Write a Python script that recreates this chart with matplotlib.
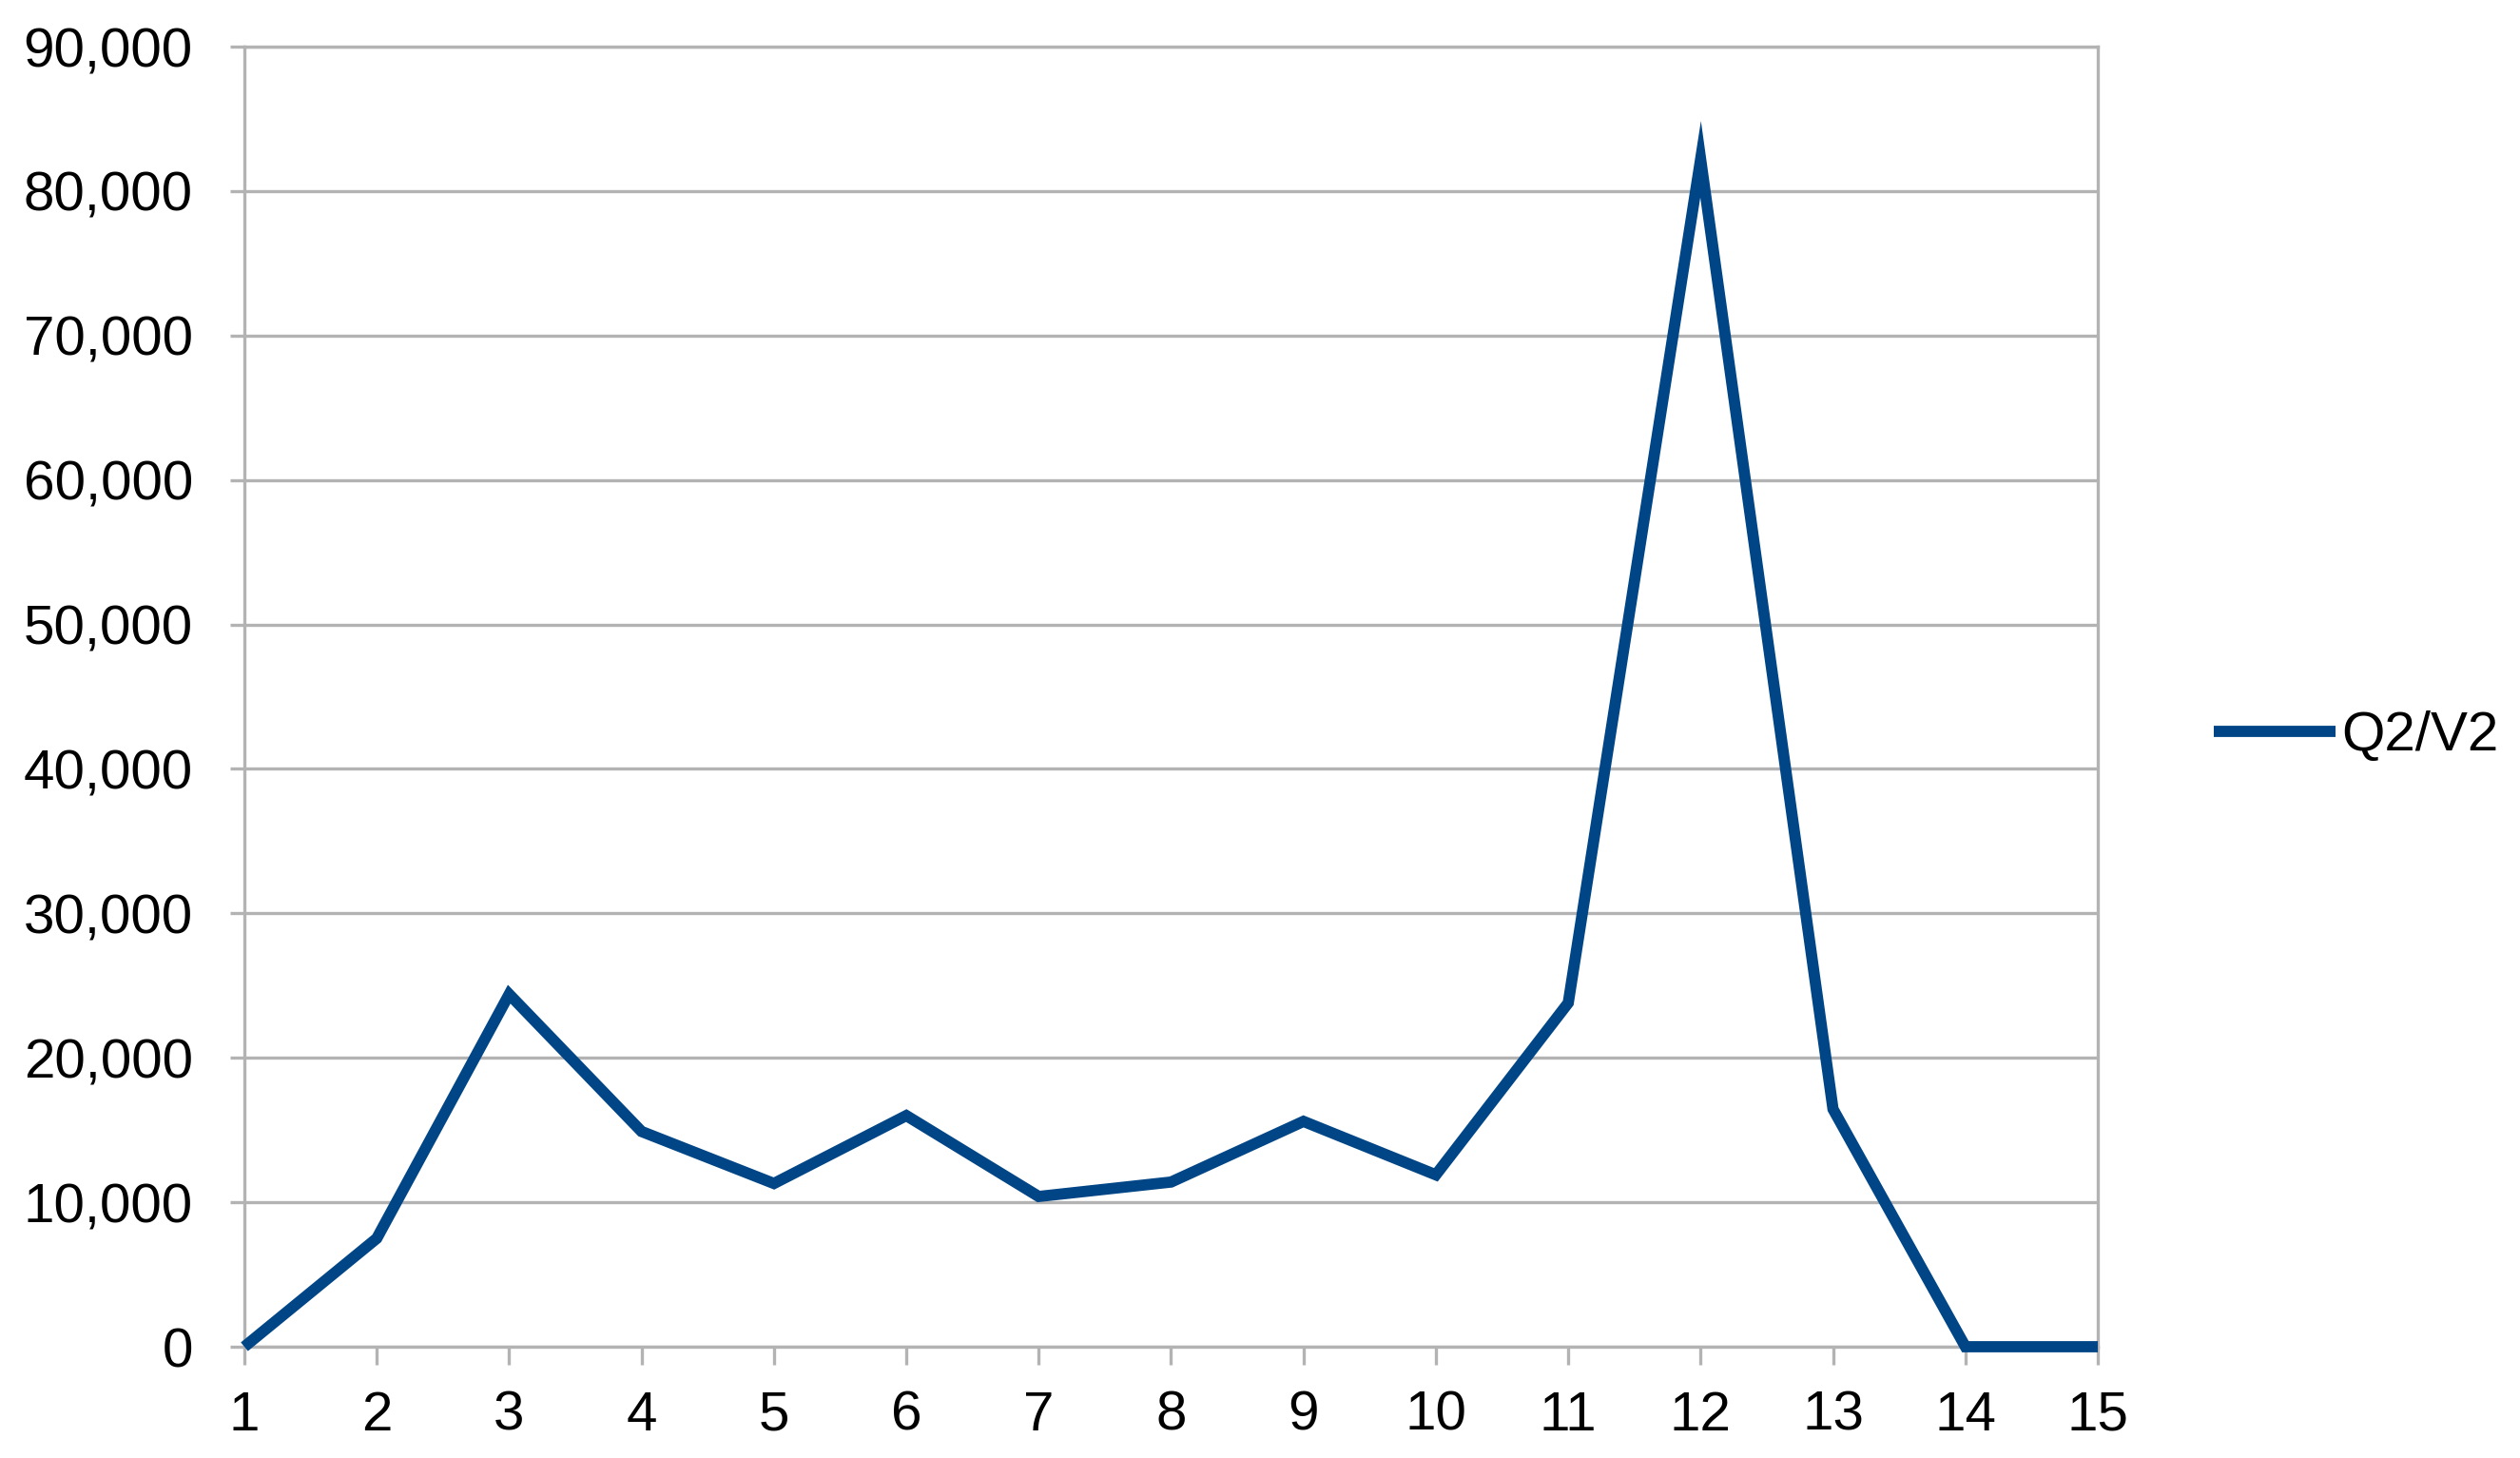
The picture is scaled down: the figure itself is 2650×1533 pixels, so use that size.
import matplotlib
matplotlib.use("Agg")
import matplotlib.pyplot as plt
from matplotlib.ticker import FuncFormatter

periods = list(range(1, 16))
q2_v2 = [0, 7500, 24400, 14900, 11300, 16000, 10400, 11400, 15600, 11900, 23800, 82200, 16450, 0, 0]
series_name = "Q2/V2"
y_ticks = list(range(0, 90001, 10000))

plt.rcParams['font.family'] = ['Liberation Sans', 'DejaVu Sans']

fig = plt.figure(figsize=(26.5, 15.33), dpi=100)
ax = fig.add_axes([257 / 2650, 1 - 1416 / 1533, (2206 - 257) / 2650, (1416 - 49) / 1533])

grid_c = '#b3b3b3'
ax.plot(periods, q2_v2, color='#004586', lw=8.5, solid_joinstyle='miter',
        solid_capstyle='butt', clip_on=False, zorder=3, label=series_name)

ax.set_xlim(1, 15)
ax.set_ylim(0, 90000)
ax.set_xticks(periods)
ax.set_yticks(y_ticks)
ax.yaxis.set_major_formatter(FuncFormatter(lambda v, p: f"{int(v):,}"))
ax.grid(axis='y', color=grid_c, lw=2.4, zorder=1)
ax.set_axisbelow(True)
for s in ax.spines.values():
    s.set_color(grid_c)
    s.set_linewidth(2.4)
ax.tick_params(axis='x', length=14, width=2.4, color=grid_c, pad=19, labelsize=42, labelcolor='black')
ax.tick_params(axis='y', length=11, width=2.4, color=grid_c, pad=28, labelsize=42, labelcolor='black')

leg = ax.legend(loc='center left', bbox_to_anchor=(2328 / 2650, 1 - 774 / 1533),
                bbox_transform=fig.transFigure, frameon=False, fontsize=42,
                handlelength=2.2, handletextpad=0.1, borderpad=0, borderaxespad=0)

fig.savefig('out.png', dpi=100)
